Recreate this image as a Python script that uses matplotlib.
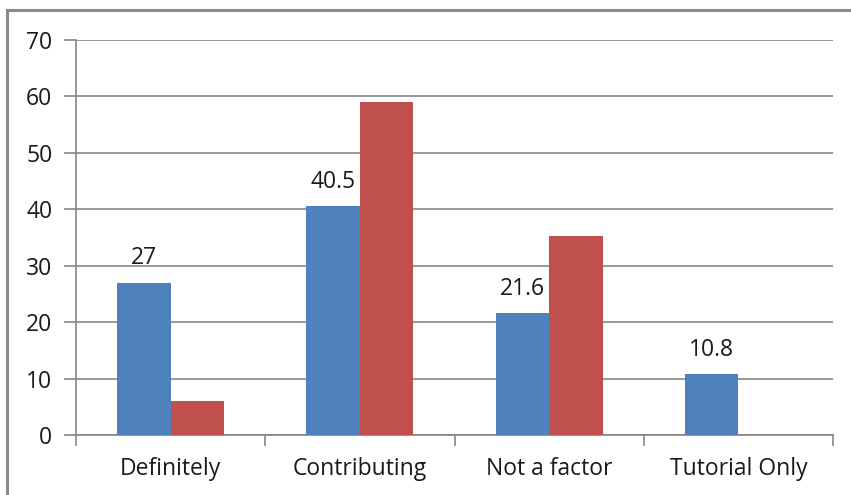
import matplotlib
matplotlib.use("Agg")
import matplotlib.pyplot as plt
from matplotlib.lines import Line2D
import numpy as np

categories = ["Definitely", "Contributing", "Not a factor", "Tutorial Only"]
series_blue = [27, 40.5, 21.6, 10.8]
series_red = [6.0, 59.0, 35.3, 0]
blue_labels = ["27", "40.5", "21.6", "10.8"]
yticks = [0, 10, 20, 30, 40, 50, 60, 70]

plt.rcParams['font.family'] = ['Open Sans', 'DejaVu Sans']
FS = 16.5

fig = plt.figure(figsize=(8.51, 4.95), dpi=100)
ax = fig.add_axes([76/851, 1-435/495, (833-76)/851, (435-40)/495])

x = np.arange(len(categories))
w = 0.283
ax.bar(x - w/2, series_blue, w, color="#4F81BD", zorder=3)
ax.bar(x + w/2, series_red, w, color="#C0504D", zorder=3)

for xi, v, lab in zip(x, series_blue, blue_labels):
    ax.annotate(lab, (xi - w/2, v), xytext=(0, 9), textcoords="offset points",
                ha="center", va="bottom", fontsize=FS, color="#1a1a1a")

ax.set_xlim(-0.5, 3.5)
ax.set_ylim(0, 70)
ax.set_yticks(yticks)
ax.set_yticklabels([str(t) for t in yticks], fontsize=FS, color="#1a1a1a")
ax.set_xticks(x)
ax.set_xticklabels(categories, fontsize=FS, color="#1a1a1a")
ax.set_xticks(np.arange(-0.5, 4.0, 1.0), minor=True)
ax.tick_params(axis="x", which="major", length=0, pad=16)
ax.tick_params(axis="x", which="minor", length=8, width=1.2, color="#868686", direction="out")
ax.tick_params(axis="y", length=9, width=1.2, color="#868686", pad=8)

ax.grid(axis="y", color="#868686", linewidth=1.2, zorder=0)
ax.set_axisbelow(True)
for s in ["top", "right"]:
    ax.spines[s].set_visible(False)
for s in ["left", "bottom"]:
    ax.spines[s].set_color("#868686")
    ax.spines[s].set_linewidth(1.2)

# outer chart border (top and left visible)
fig.add_artist(Line2D([7/851, 1.0], [1-10/495, 1-10/495], transform=fig.transFigure,
                      color="#8a8a8a", linewidth=2.2))
fig.add_artist(Line2D([7/851, 7/851], [0, 1-10/495], transform=fig.transFigure,
                      color="#8a8a8a", linewidth=2.2))

fig.savefig("out.png", dpi=100)
